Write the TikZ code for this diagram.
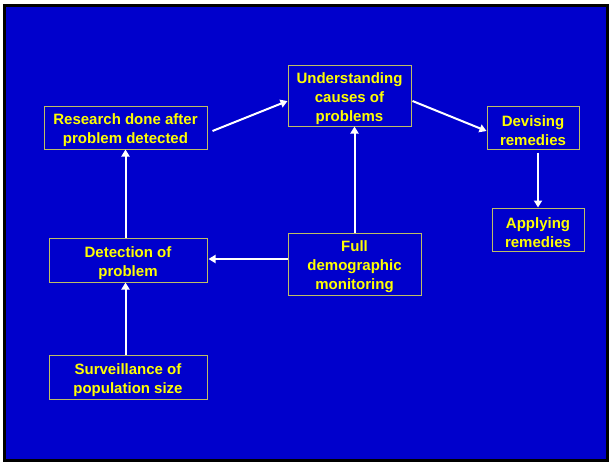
\documentclass[tikz,border=0pt]{standalone}
\usepackage{fontspec}
\setmainfont{Liberation Sans}
\usetikzlibrary{arrows.meta}
\usetikzlibrary{calc}
\definecolor{slideblue}{RGB}{0,0,204}
\definecolor{boxedge}{RGB}{190,190,100}
\definecolor{labelyellow}{RGB}{255,255,0}
\newcommand{\topgap}{\rule{0pt}{17pt}} % pushes the label text down a little
\tikzset{
	% yellow bold labels in thin framed boxes
	stage/.style={draw=boxedge, line width=1pt, text=labelyellow, align=center,
		inner sep=0pt, font=\bfseries\fontsize{15}{19}\selectfont},
	% white connectors
	flow/.style={draw=white, line width=2pt, -{Triangle[width=8pt,length=7pt]}}
}

\begin{document}
\begin{tikzpicture}[x=1pt, y=-1pt]
	% 609 x 461 slide
	\useasboundingbox (0,0) rectangle (609,461);
	\fill[slideblue] (4,5.5) rectangle (607,460);
	\draw[black, line width=3pt] (4,5.5) rectangle (607,460);
	% upper row
	\node[stage, minimum width=163, minimum height=43] (res) at (125.5,127.5) {\topgap Research done after\\problem detected};
	\node[stage, minimum width=123, minimum height=61] (und) at (349.5,95.5) {\topgap Understanding\\causes of\\problems};
	\node[stage, minimum width=92, minimum height=43] (dev) at (533,127.5) {\topgap Devising\\remedies};
	\node[stage, minimum width=92, minimum height=43] (app) at (538,229.5) {\topgap Applying\\remedies};
	% middle row
	\node[stage, minimum width=158, minimum height=44] (det) at (128,260) {\topgap Detection of\\problem};
	\node[stage, minimum width=133, minimum height=62] (full) at (354.5,264) {\topgap Full\\demographic\\monitoring};
	% bottom
	\node[stage, minimum width=158, minimum height=44] (surv) at (128,377) {\topgap Surveillance of\\population size};
	% connectors
	\draw[flow] ($(res.east)+(5,3.5)$) -- ($(und.west)+(0,5.5)$);
	\draw[flow] ($(und.east)+(1,5.5)$) -- ($(dev.west)+(0,3.5)$);
	\draw[flow] ($(dev.south -| app.north)+(0,3)$) -- (app.north);
	\draw[flow] (full.north) -- (full.north |- und.south);
	\draw[flow] ($(full.west)+(0,-5)$) -- ($(det.east)+(1,-1)$);
	\draw[flow] (surv.north -| res.south) -- (det.south -| res.south);
	\draw[flow] (det.north -| res.south) -- (res.south);
\end{tikzpicture}
\end{document}
